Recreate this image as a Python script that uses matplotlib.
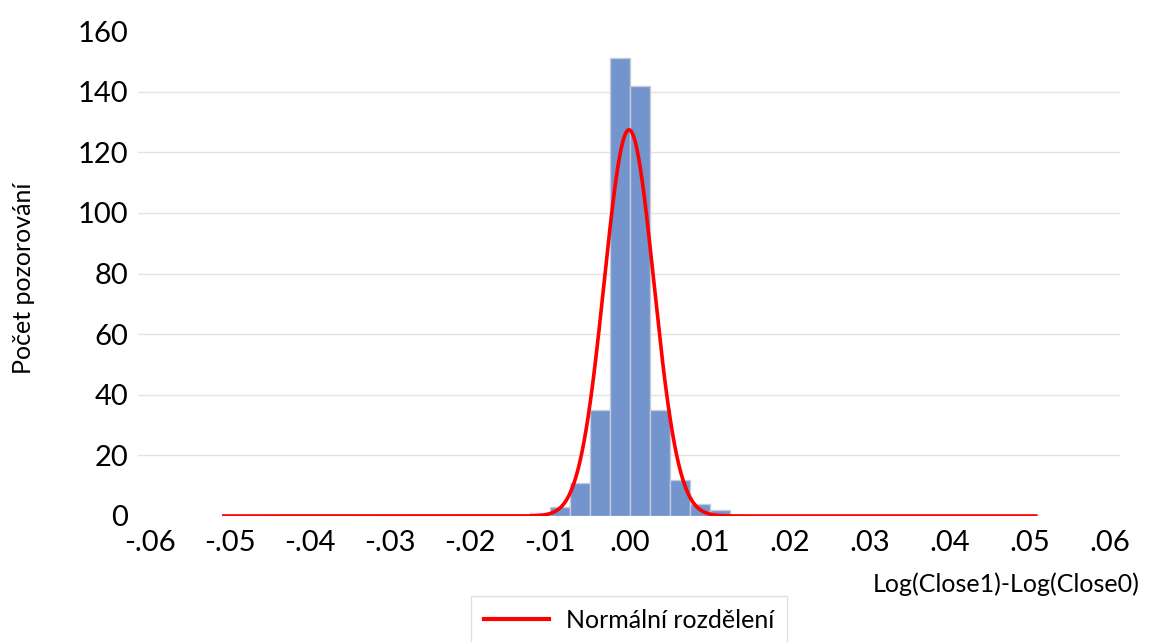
import numpy as np
import matplotlib
matplotlib.use("Agg")
import matplotlib.pyplot as plt
from matplotlib.lines import Line2D

# Histogram of daily log returns
bin_left_edges = [-0.0125, -0.0100, -0.0075, -0.0050, -0.0025,
                  0.0000, 0.0025, 0.0050, 0.0075, 0.0100]
bin_width = 0.0025
counts = [1, 3, 11, 35, 151, 142, 35, 12, 4, 2]

# Fitted normal distribution parameters
mu = -0.0001
sigma = 0.0031
curve_range = (-0.051, 0.051)

x_ticks = [-0.06, -0.05, -0.04, -0.03, -0.02, -0.01, 0.00,
           0.01, 0.02, 0.03, 0.04, 0.05, 0.06]
x_tick_labels = ["-.06", "-.05", "-.04", "-.03", "-.02", "-.01", ".00",
                 ".01", ".02", ".03", ".04", ".05", ".06"]
y_ticks = [0, 20, 40, 60, 80, 100, 120, 140, 160]

plt.rcParams['font.family'] = ['Lato', 'DejaVu Sans']

fig = plt.figure(figsize=(11.56, 6.42), dpi=100)
ax = fig.add_axes([138 / 1156, 1 - 516 / 642, (1120 - 138) / 1156, (516 - 31) / 642])

# horizontal gridlines (none at the top value)
for yv in y_ticks[1:-1]:
    ax.axhline(yv, color='#e3e3e3', lw=1.0, zorder=0)

ax.bar(bin_left_edges, counts, width=bin_width, align='edge',
       color='#7394cc', edgecolor='#c5cbd8', linewidth=1.0, zorder=2)

n_total = sum(counts)
xs = np.linspace(curve_range[0], curve_range[1], 2000)
pdf = np.exp(-0.5 * ((xs - mu) / sigma) ** 2) / (sigma * np.sqrt(2 * np.pi))
ax.plot(xs, pdf * n_total * bin_width, color='#ff0000', lw=2.6, zorder=3,
        solid_capstyle='butt')

ax.set_xlim(-0.0615, 0.0613)
ax.set_ylim(0, 160)
ax.set_xticks(x_ticks)
ax.set_xticklabels(x_tick_labels)
ax.set_yticks(y_ticks)
ax.tick_params(axis='both', length=0, labelsize=21, colors='#000000')
ax.tick_params(axis='y', pad=7)
ax.tick_params(axis='x', pad=10)
for s in ax.spines.values():
    s.set_visible(False)

fig.text(1140 / 1156, 1 - 584 / 642, "Log(Close1)-Log(Close0)", ha='right',
         va='center', fontsize=18)
fig.text(24 / 1156, 1 - 278 / 642, "Počet pozorování", rotation=90,
         ha='center', va='center', fontsize=18)

handle = Line2D([0], [0], color='#ff0000', lw=3.0)
leg = fig.legend([handle], ["Normální rozdělení"], loc='upper center',
                 bbox_to_anchor=(629 / 1156, 1 - 596 / 642), fontsize=18,
                 frameon=True, fancybox=False, edgecolor='#d9d9d9',
                 handlelength=2.6, borderpad=0.5, handletextpad=0.7,
                 borderaxespad=0)
leg.get_frame().set_linewidth(1.0)

fig.savefig("out.png", dpi=100)
